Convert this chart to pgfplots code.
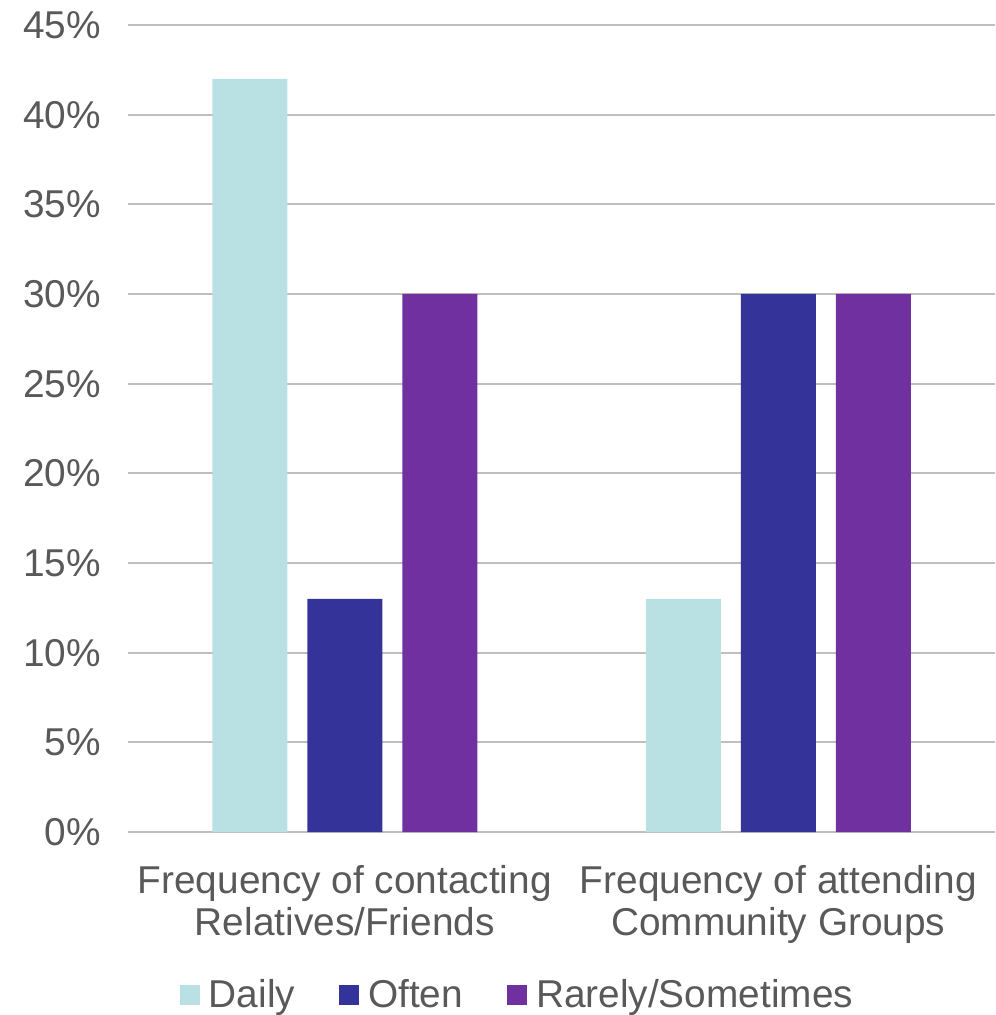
\documentclass[border=0pt]{standalone}
\usepackage{pgfplots}
\pgfplotsset{compat=1.18}
\usepackage{fontspec}
\setmainfont{Liberation Sans}
\definecolor{cDaily}{HTML}{B9E0E3}
\definecolor{cOften}{HTML}{333399}
\definecolor{cRare}{HTML}{7030A0}
\definecolor{txt}{HTML}{595959}
\definecolor{grid}{HTML}{D9D9D9}
\begin{document}
\begin{tikzpicture}
\useasboundingbox (-64pt,-91.5pt) rectangle (433.5pt,416pt);
\begin{axis}[
  at={(0,0)}, anchor=south west,
  scale only axis, width=433.5pt, height=403.5pt,
  ybar=10pt, bar width=37.5pt,
  xmin=-0.5, xmax=1.5, ymin=0, ymax=45,
  xtick={0,1},
  xticklabels={{Frequency of contacting\\Relatives/Friends},{Frequency of attending\\Community Groups}},
  xticklabel style={align=center, text=txt, font=\fontsize{19.4}{21}\selectfont, yshift=-13pt},
  ytick={0,5,...,45},
  yticklabel={\pgfmathprintnumber{\tick}\%},
  yticklabel style={text=txt, font=\fontsize{19.4}{21}\selectfont, xshift=-10pt},
  /pgf/number format/assume math mode=true,
  major tick length=0pt,
  axis line style={draw=none},
  xmajorgrids=false, ymajorgrids=true,
  grid style={grid, line width=1pt},
  legend style={at={(0.4504,-0.202)}, anchor=center, draw=none, fill=none,
    legend columns=3, font=\fontsize{19.4}{21}\selectfont, text=txt,
    /tikz/every odd column/.append style={column sep=2.5pt},
    /tikz/every even column/.append style={column sep=20pt}},
  legend image code/.code={\fill[#1] (0pt,-5pt) rectangle (10pt,5pt);},
  clip=false,
]
\addplot[fill=cDaily, draw=none] coordinates {(0,42) (1,13)};
\addplot[fill=cOften, draw=none] coordinates {(0,13) (1,30)};
\addplot[fill=cRare, draw=none] coordinates {(0,30) (1,30)};
\legend{Daily,Often,Rarely/Sometimes}
\end{axis}
\end{tikzpicture}
\end{document}
